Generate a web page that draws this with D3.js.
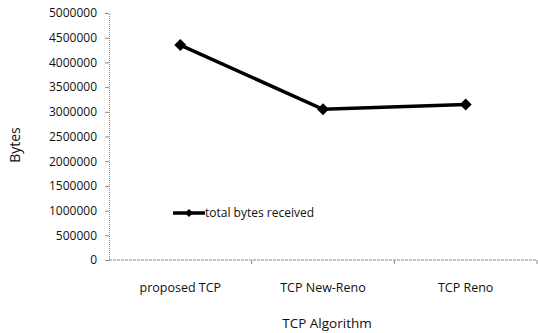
<!DOCTYPE html>
<html>
<head>
<meta charset="utf-8">
<script src="https://cdn.jsdelivr.net/npm/d3@7"></script>
<style>
  body { margin: 0; background: #fff; }
  text { font-family: "Open Sans", "DejaVu Sans", sans-serif; fill: #111; }
</style>
</head>
<body>
<div id="chart"></div>
<script>
// values
const algorithms = ["proposed TCP", "TCP New-Reno", "TCP Reno"];
const bytesReceived = [4350000, 3050000, 3150000];
const yTicks = [0, 500000, 1000000, 1500000, 2000000, 2500000, 3000000, 3500000, 4000000, 4500000, 5000000];
const seriesName = "total bytes received";

const width = 538, height = 333;
const margin = { top: 13, right: 1, bottom: 73, left: 109 };
const w = width - margin.left - margin.right;
const h = height - margin.top - margin.bottom;

const svg = d3.select("#chart").append("svg")
    .attr("width", width)
    .attr("height", height);

const chart = svg.append("g")
    .attr("transform", `translate(${margin.left},${margin.top})`);

const x = d3.scaleBand()
    .domain(algorithms)
    .range([0, w]);

const y = d3.scaleLinear()
    .domain([0, 5000000])
    .range([h, 0]);

// y axis: dotted grey line, ticks to the left
const gy = chart.append("g")
    .call(d3.axisLeft(y).tickValues(yTicks).tickSize(4).tickPadding(8).tickFormat(d3.format("d")));
gy.select(".domain").attr("stroke", "#888").attr("stroke-dasharray", "1,1");
gy.selectAll(".tick line").attr("stroke", "#888");
gy.selectAll(".tick text").style("font-size", "12px").attr("fill", "#111");

// x axis: ticks at the category boundaries
const gx = chart.append("g")
    .attr("transform", `translate(0,${h})`);
gx.append("line")
    .attr("x1", 0).attr("x2", w)
    .attr("stroke", "#888")
    .attr("stroke-dasharray", "3,1");
gx.selectAll(".bound")
    .data(algorithms)
    .join("line")
    .attr("class", "bound")
    .attr("x1", d => x(d) + x.bandwidth())
    .attr("x2", d => x(d) + x.bandwidth())
    .attr("y1", 0).attr("y2", 4)
    .attr("stroke", "#888");
gx.selectAll(".cat")
    .data(algorithms)
    .join("text")
    .attr("class", "cat")
    .attr("x", d => x(d) + x.bandwidth() / 2)
    .attr("y", 32)
    .attr("text-anchor", "middle")
    .style("font-size", "12.5px")
    .text(d => d);

// axis titles
svg.append("text")
    .attr("x", margin.left + w / 2 + 4)
    .attr("y", 328)
    .attr("text-anchor", "middle")
    .style("font-size", "13.5px")
    .text("TCP Algorithm");

svg.append("text")
    .attr("transform", "rotate(-90)")
    .attr("x", -145)
    .attr("y", 20)
    .attr("text-anchor", "middle")
    .style("font-size", "14px")
    .text("Bytes");

// series line
const points = algorithms.map((a, i) => ({ a, v: bytesReceived[i] }));
const line = d3.line()
    .x(d => x(d.a) + x.bandwidth() / 2)
    .y(d => y(d.v));

chart.append("path")
    .datum(points)
    .attr("d", line)
    .attr("fill", "none")
    .attr("stroke", "#000")
    .attr("stroke-width", 3.5);

// diamond = square turned 45 degrees
const diamond = d3.symbol().type(d3.symbolSquare).size(72);
chart.selectAll(".pt")
    .data(points)
    .join("path")
    .attr("class", "pt")
    .attr("transform", d => `translate(${x(d.a) + x.bandwidth() / 2},${y(d.v)}) rotate(45)`)
    .attr("d", diamond)
    .attr("fill", "#000");

// legend
const legend = svg.append("g").attr("transform", "translate(173,213)");
legend.append("line")
    .attr("x1", 0).attr("x2", 32)
    .attr("stroke", "#000")
    .attr("stroke-width", 3.5);
legend.append("path")
    .attr("transform", "translate(16,0) rotate(45)")
    .attr("d", d3.symbol().type(d3.symbolSquare).size(32))
    .attr("fill", "#000");
legend.append("text")
    .attr("x", 32)
    .attr("y", 4)
    .style("font-size", "12px")
    .text(seriesName);
</script>
</body>
</html>
